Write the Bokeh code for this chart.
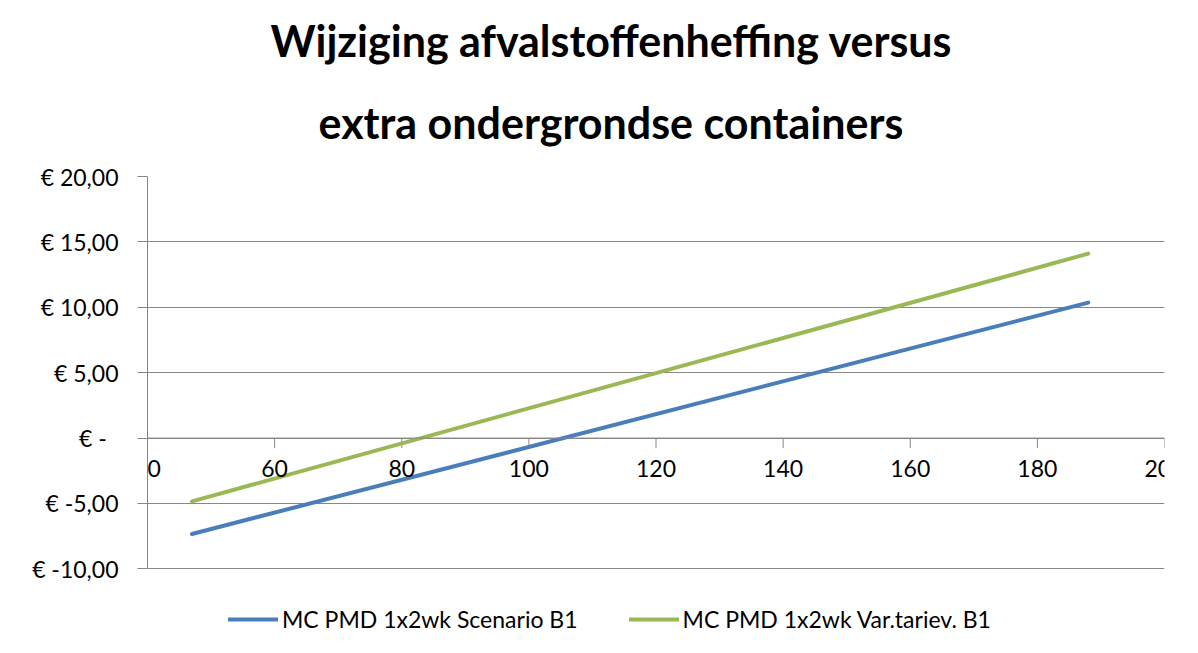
from bokeh.plotting import figure
from bokeh.models import (FixedTicker, Legend, LegendItem, Title, Range1d, Span,
                          ColumnDataSource, LabelSet)
from bokeh.core.properties import value
from bokeh.embed import file_html
from bokeh.resources import INLINE

# ---- data ----
x_vals = [47, 188]
scenario_b1 = [-7.33, 10.36]
var_tariev_b1 = [-4.84, 14.10]
series_names = ["MC PMD 1x2wk Scenario B1", "MC PMD 1x2wk Var.tariev. B1"]
x_ticks = [40, 60, 80, 100, 120, 140, 160, 180, 200]
x_tick_labels = [str(t) for t in x_ticks]
y_ticks = [-10, -5, 0, 5, 10, 15, 20]
y_tick_labels = ["€ -10,00", "€ -5,00", "€ -\u00a0\u00a0", "€ 5,00", "€ 10,00", "€ 15,00", "€ 20,00"]
title_lines = ["Wijziging afvalstoffenheffing versus", "extra ondergrondse containers"]

FONT = "Lato"
GRID = "#878787"
X_AXIS_AT = 0
TICK_LEN = 0.76  # tick length in data units (about 10 px)

p = figure(width=1188, height=642, output_backend="svg", toolbar_location=None,
           x_range=Range1d(start=40, end=200), y_range=Range1d(start=-15.63, end=20),
           min_border_left=147, min_border_right=24, min_border_top=176,
           min_border_bottom=0)
p.outline_line_color = None
p.background_fill_color = "white"
p.border_fill_color = "white"

# title: two lines (first added sits closest to the plot)
t2 = Title(text=title_lines[1], align="left", offset=171, text_font=FONT,
           text_font_size="43px", text_font_style="bold", text_color="black", standoff=58)
t1 = Title(text=title_lines[0], align="left", offset=123, text_font=FONT,
           text_font_size="43px", text_font_style="bold", text_color="black", standoff=0,
           text_line_height=0.75)
p.add_layout(t2, "above")
p.add_layout(t1, "above")

# x axis drawn at y = 0 (crossing axis)
p.xaxis.visible = False
p.add_layout(Span(location=X_AXIS_AT, dimension="width", line_color=GRID, line_width=1))
tick_src = ColumnDataSource(dict(x=x_ticks,
                                 y=[X_AXIS_AT] * len(x_ticks),
                                 y_end=[X_AXIS_AT - TICK_LEN] * len(x_ticks),
                                 lbl=x_tick_labels))
p.segment(x0="x", y0="y", x1="x", y1="y_end", source=tick_src,
          line_color=GRID, line_width=1)
x_labels = LabelSet(x="x", y="y", text="lbl", source=tick_src, text_align="center",
                    text_baseline="top", y_offset=-22, text_font=value(FONT),
                    text_font_size="23px", text_color="black")
p.add_layout(x_labels)

# y axis
p.yaxis.bounds = (-10, 20)
p.yaxis.ticker = FixedTicker(ticks=y_ticks)
p.yaxis.major_label_overrides = {t_: l for t_, l in zip(y_ticks, y_tick_labels)}
p.yaxis.major_tick_out = 10
p.yaxis.major_tick_in = 0
p.yaxis.minor_tick_line_color = None
p.yaxis.axis_line_color = GRID
p.yaxis.major_tick_line_color = GRID
p.yaxis.major_label_text_font = FONT
p.yaxis.major_label_text_font_size = "23px"
p.yaxis.major_label_text_color = "black"
p.yaxis.major_label_standoff = 19

p.xgrid.grid_line_color = None
p.ygrid.ticker = FixedTicker(ticks=y_ticks)
p.ygrid.grid_line_color = GRID
p.ygrid.grid_line_width = 1

r1 = p.line(x_vals, scenario_b1, line_color="#4A7EBB", line_width=4, line_cap="round")
r2 = p.line(x_vals, var_tariev_b1, line_color="#98B954", line_width=4, line_cap="round")

legend = Legend(items=[LegendItem(label=series_names[0], renderers=[r1]),
                       LegendItem(label=series_names[1], renderers=[r2])],
                orientation="horizontal", location=(81, 9),
                label_text_font=FONT, label_text_font_size="23px", label_text_color="black",
                glyph_width=50, label_standoff=4, spacing=51,
                border_line_color=None, background_fill_alpha=0,
                padding=5, margin=0)
p.add_layout(legend, "center")

open("out.html", "w").write(file_html(p, INLINE))
